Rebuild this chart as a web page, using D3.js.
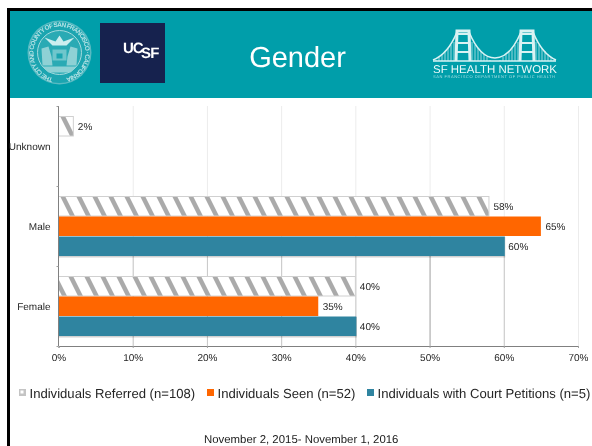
<!DOCTYPE html>
<html><head><meta charset="utf-8">
<style>
html,body{margin:0;padding:0;background:#fff;overflow:hidden}
svg{display:block;filter:blur(0.25px)}
text{font-family:"Liberation Sans",Arial,sans-serif;text-rendering:geometricPrecision}
</style>
<script src="https://cdn.jsdelivr.net/npm/d3@7"></script>
</head><body><svg id="c" width="592" height="446"></svg>
<script>
const categories = ["Unknown", "Male", "Female"];
const seriesNames = ["Individuals Referred (n=108)", "Individuals Seen (n=52)", "Individuals with Court Petitions (n=5)"];
const referred = [2, 58, 40];
const seen = [null, 65, 35];
const court = [null, 60, 40];
const xTicks = [0, 10, 20, 30, 40, 50, 60, 70];
const seriesColors = ["#aaaaaa", "#ff6600", "#2f84a0"];
const titleText = "Gender";
const dateText = "November 2, 2015- November 1, 2016";

const svg = d3.select("#c");
const defs = svg.append("defs");
const soft = defs.append("filter").attr("id", "soft");
soft.append("feGaussianBlur").attr("stdDeviation", 0.5);
const soft2 = defs.append("filter").attr("id", "soft2");
soft2.append("feGaussianBlur").attr("stdDeviation", 0.3);

// frame and header
svg.append("rect").attr("x", 7).attr("y", 8).attr("width", 585).attr("height", 438).attr("fill", "#000");
svg.append("rect").attr("x", 10).attr("y", 11).attr("width", 582).attr("height", 435).attr("fill", "#fff");
svg.append("rect").attr("x", 10).attr("y", 11).attr("width", 582).attr("height", 87).attr("fill", "#009eaa");

// city seal
const seal = svg.append("g").attr("transform", "translate(59.5,52.5)").attr("filter", "url(#soft)");
seal.append("circle").attr("r", 32).attr("fill", "#58bac2");
seal.append("circle").attr("r", 30.5).attr("fill", "#1aa5b0");
seal.append("circle").attr("r", 22).attr("fill", "#2aaab4").attr("stroke", "#a4dadd").attr("stroke-width", 1);
defs.append("path").attr("id", "sealArc").attr("d", "M-4,26A26,26 0 1 1 4,26");
seal.append("text").attr("font-size", 6.4).attr("font-weight", "bold").attr("fill", "#b5e2e5")
  .append("textPath").attr("href", "#sealArc").attr("startOffset", "50%").attr("text-anchor", "middle")
  .attr("textLength", 150).text("THE CITY AND COUNTY OF SAN FRANCISCO · CALIFORNIA");
seal.append("path").attr("d", "M-15,-15L-4,-11L0,-17L4,-11L15,-15L7,-7L-7,-7Z").attr("fill", "#cdeeef");
seal.append("path").attr("d", "M-18,-4L-11,-6L-8,4L-7,13L-17,13ZM11,-6L18,-4L17,13L7,13L8,4ZM-17,14L17,14L11,20L-11,20Z").attr("fill", "#8ed1d5");
seal.append("path").attr("d", "M-7,-3L7,-3L7,8L-7,8Z").attr("fill", "#6fc6cc");
seal.append("path").attr("d", "M-3,1L3,1L3,6L-3,6Z").attr("fill", "#1aa5b0");

// UCSF mark
svg.append("rect").attr("x", 100).attr("y", 23).attr("width", 65).attr("height", 60).attr("fill", "#16224e");
const ucsf = svg.append("g").attr("filter", "url(#soft2)").attr("fill", "#fff").attr("font-weight", "bold").attr("font-size", 15);
ucsf.append("text").attr("x", 123).attr("y", 53).attr("letter-spacing", -1).text("UC");
ucsf.append("text").attr("x", 141).attr("y", 58).attr("letter-spacing", -0.8).text("SF");

// title
svg.append("text").attr("x", 297.5).attr("y", 67).attr("text-anchor", "middle").attr("font-size", 29).attr("fill", "#fff").text(titleText);

// SF Health Network mark
const br = svg.append("g").attr("filter", "url(#soft2)");
const brLine = "#d9f2f3";
[463, 527].forEach(t => {
  br.append("path").attr("d", `M${t-7},61L${t-6},31L${t+6},31L${t+7},61`).attr("fill", "none").attr("stroke", brLine).attr("stroke-width", 3);
  br.append("path").attr("d", `M${t-6},34H${t+6}M${t-6},43H${t+6}M${t-6},52H${t+6}`).attr("fill", "none").attr("stroke", brLine).attr("stroke-width", 2);
  d3.range(-27, 28, 3).filter(d => Math.abs(d) > 8).forEach(d => {
    br.append("line").attr("x1", t + d).attr("x2", t + d).attr("y1", 61).attr("y2", 33 + Math.abs(d))
      .attr("stroke", "#a5dde0").attr("stroke-width", 0.9);
  });
});
br.append("path").attr("d", "M433,60Q448,54 457,32M469,32Q480,58 495,58Q510,58 521,32M533,32Q542,54 556,60").attr("fill", "none").attr("stroke", brLine).attr("stroke-width", 1.6);
br.append("line").attr("x1", 433).attr("x2", 556).attr("y1", 61).attr("y2", 61).attr("stroke", brLine).attr("stroke-width", 1.6);
br.append("text").attr("x", 433).attr("y", 72.5).attr("font-size", 11.3).attr("fill", "#eafafa").attr("font-family", "DejaVu Sans")
  .attr("textLength", 124).attr("lengthAdjust", "spacingAndGlyphs").text("SF HEALTH NETWORK");
br.append("text").attr("x", 433).attr("y", 78).attr("font-size", 4).attr("fill", "#a6dfe2")
  .attr("textLength", 122).attr("lengthAdjust", "spacing").text("SAN FRANCISCO DEPARTMENT OF PUBLIC HEALTH");

// chart
const x = d3.scaleLinear().domain([0, 70]).range([58.5, 578]);
const y = d3.scaleBand().domain(categories).range([106, 346]);
const inner = d3.scaleBand().domain(seriesNames).range([10, 70]);
const seriesValues = [referred, seen, court];

// one hatch per category so each bar starts its stripes where the reference does
const hatchStart = { Unknown: 60, Male: 60, Female: 68 };
categories.forEach(c => {
  const p = defs.append("pattern").attr("id", "hatch" + c).attr("patternUnits", "userSpaceOnUse")
    .attr("width", 16).attr("height", 40)
    .attr("patternTransform", `translate(${hatchStart[c]},${y(c) + inner(seriesNames[0])}) skewX(26.565)`);
  p.append("rect").attr("width", 16).attr("height", 40).attr("fill", "#fff");
  p.append("rect").attr("width", 5).attr("height", 40).attr("fill", seriesColors[0]);
});

const grid = svg.append("g");
grid.selectAll("line.light").data(xTicks.slice(1)).join("line").attr("class", "light")
  .attr("x1", d => x(d) + .5).attr("x2", d => x(d) + .5).attr("y1", y.range()[0]).attr("y2", y.range()[1])
  .attr("stroke", "#ececec");
grid.selectAll("line.dark").data(xTicks.slice(1, -1)).join("line").attr("class", "dark")
  .attr("x1", d => x(d) + .5).attr("x2", d => x(d) + .5)
  .attr("y1", y("Female") - 10).attr("y2", y.range()[1])
  .attr("stroke", d => d === 50 ? "#a8a8a8" : "#c8c8c8");

const axisX = d3.axisBottom(x).tickValues(xTicks).tickFormat(d => d + "%").tickSize(2).tickPadding(6);
const gx = svg.append("g").attr("transform", `translate(0,${y.range()[1]})`).call(axisX);
gx.select(".domain").attr("stroke", "#808080");
gx.selectAll(".tick line").attr("stroke", "#a0a0a0");
gx.selectAll("text").attr("font-size", 10).attr("fill", "#262626").attr("font-family", '"Liberation Sans",Arial,sans-serif');

seriesNames.forEach((name, si) => {
  const rows = categories.map((c, i) => ({ c, v: seriesValues[si][i] })).filter(d => d.v !== null);
  const g = svg.append("g");
  if (si === 2) {
    g.selectAll("rect.shadow").data(rows).join("rect").attr("class", "shadow")
      .attr("x", x(0)).attr("y", d => y(d.c) + inner(name) + 1)
      .attr("width", d => x(d.v) - x(0) + 1.5).attr("height", inner.bandwidth() + 0.5)
      .attr("fill", "#000").attr("opacity", 0.18);
  }
  g.selectAll("rect.bar").data(rows).join("rect").attr("class", "bar")
    .attr("x", x(0)).attr("y", d => y(d.c) + inner(name) + .5)
    .attr("width", d => x(d.v) - x(0) + (si === 2 ? 1 : 0)).attr("height", inner.bandwidth() - .5)
    .attr("fill", d => si === 0 ? `url(#hatch${d.c})` : seriesColors[si])
    .attr("stroke", si === 0 ? "#d0d0d0" : "none").attr("stroke-width", si === 0 ? 1 : 0);
  g.selectAll("text").data(rows).join("text")
    .attr("x", d => x(d.v) + 4.5).attr("y", d => y(d.c) + inner(name) + inner.bandwidth() / 2 + 3.5)
    .attr("font-size", 10).attr("fill", "#262626").text(d => d.v + "%");
});

// category axis, ticks on band edges
const gy = svg.append("g");
gy.append("line").attr("x1", x(0)).attr("x2", x(0)).attr("y1", y.range()[0]).attr("y2", y.range()[1]).attr("stroke", "#808080");
gy.selectAll("line.t").data([...categories.map(c => y(c)), y.range()[1]]).join("line").attr("class", "t")
  .attr("x1", x(0) - 2).attr("x2", x(0)).attr("y1", d => d + .5).attr("y2", d => d + .5).attr("stroke", "#a0a0a0");
gy.selectAll("text").data(categories).join("text")
  .attr("x", 50.5).attr("y", d => y(d) + y.bandwidth() / 2 + 4).attr("text-anchor", "end")
  .attr("font-size", 10).attr("fill", "#262626").text(d => d);

// legend
const legendX = [19, 207, 367];
const leg = svg.append("g").selectAll("g").data(seriesNames).join("g")
  .attr("transform", (d, i) => `translate(${legendX[i]},389)`);
leg.append("rect").attr("width", 7).attr("height", 7)
  .attr("fill", (d, i) => i === 0 ? "#c4c4c4" : seriesColors[i]);
leg.filter((d, i) => i === 0).append("rect").attr("x", 1.5).attr("y", 1.5).attr("width", 3).attr("height", 3).attr("fill", "#fff");
leg.append("text").attr("x", 10.5).attr("y", 8.5).attr("font-size", 13.1).attr("fill", "#262626").text(d => d);

// date line
svg.append("text").attr("x", 204).attr("y", 443).attr("font-size", 11.4).attr("fill", "#1a1a1a").text(dateText);
</script></body></html>
